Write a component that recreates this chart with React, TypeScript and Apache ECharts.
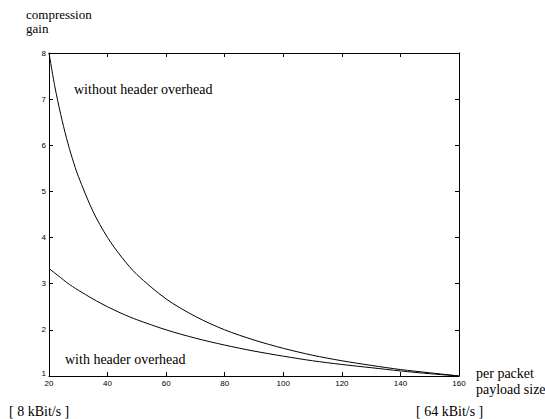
import React, { useEffect, useRef } from "react";
import * as echarts from "echarts";

const payload = [20, 22, 24, 26, 28, 30, 35, 40, 45, 50, 60, 70, 80, 90, 100, 110, 120, 130, 140, 150, 160];
const gainWithout = [8, 7.27, 6.67, 6.15, 5.71, 5.33, 4.57, 4, 3.56, 3.2, 2.67, 2.29, 2, 1.78, 1.6, 1.45, 1.33, 1.23, 1.14, 1.07, 1];
const gainWith = [3.33, 3.23, 3.13, 3.03, 2.94, 2.86, 2.67, 2.5, 2.35, 2.22, 2, 1.82, 1.67, 1.54, 1.43, 1.33, 1.25, 1.18, 1.11, 1.05, 1];
const xTicks = [20, 40, 60, 80, 100, 120, 140, 160];
const yTicks = [1, 2, 3, 4, 5, 6, 7, 8];

const serif = "'Liberation Serif', 'Times New Roman', serif";
const sans = "'Liberation Sans', Arial, sans-serif";

export default function App() {
  const ref = useRef<HTMLDivElement>(null);
  useEffect(() => {
    if (!ref.current) return;
    const chart = echarts.init(ref.current, null, { renderer: "svg" });
    const axisCommon = {
      axisLine: { show: true, onZero: false, lineStyle: { color: "#000", width: 1 } },
      axisTick: { show: true, inside: true, length: 4, lineStyle: { color: "#000" } },
      splitLine: { show: false },
    };
    const txt = (text: string, x: number, y: number, size = 14) => ({
      type: "text",
      x,
      y,
      style: { text, fill: "#000", font: `${size}px ${serif}`, textVerticalAlign: "middle" },
    });
    chart.setOption({
      animation: false,
      backgroundColor: "#fff",
      grid: { left: 49, right: 86, top: 53, bottom: 43, containLabel: false },
      xAxis: [
        {
          type: "value",
          min: xTicks[0],
          max: xTicks[xTicks.length - 1],
          interval: 20,
          ...axisCommon,
          axisLabel: { color: "#000", fontSize: 8, fontFamily: sans, margin: 3 },
        },
        {
          type: "value",
          position: "top",
          min: xTicks[0],
          max: xTicks[xTicks.length - 1],
          interval: 20,
          ...axisCommon,
          axisLabel: { show: false },
        },
      ],
      yAxis: [
        {
          type: "value",
          min: yTicks[0],
          max: yTicks[yTicks.length - 1],
          interval: 1,
          ...axisCommon,
          axisLabel: {
            color: "#000",
            fontSize: 8,
            fontFamily: sans,
            margin: 3,
            formatter: (v: number) => (v === yTicks[0] ? `{low|${v}}` : `${v}`),
            rich: { low: { fontSize: 8, fontFamily: sans, color: "#000", padding: [0, 0, 5, 0] } },
          },
        },
        {
          type: "value",
          position: "right",
          min: yTicks[0],
          max: yTicks[yTicks.length - 1],
          interval: 1,
          ...axisCommon,
          axisLabel: { show: false },
        },
      ],
      series: [
        {
          type: "line",
          data: payload.map((p, i) => [p, gainWithout[i]]),
          smooth: 0.3,
          showSymbol: false,
          lineStyle: { color: "#000", width: 1 },
        },
        {
          type: "line",
          data: payload.map((p, i) => [p, gainWith[i]]),
          smooth: 0.3,
          showSymbol: false,
          lineStyle: { color: "#000", width: 1 },
        },
      ],
      graphic: [
        txt("compression", 26, 14, 13),
        txt("gain", 26, 28, 13),
        txt("without header overhead", 74, 89),
        txt("with header overhead", 65, 359),
        txt("per packet", 476, 373),
        txt("payload size", 476, 389),
        txt("[ 8 kBit/s ]", 9, 411),
        txt("[ 64 kBit/s ]", 416, 411),
      ],
    });
    return () => chart.dispose();
  }, []);
  return <div ref={ref} style={{ position: "fixed", left: 0, top: 0, width: 545, height: 419 }} />;
}
